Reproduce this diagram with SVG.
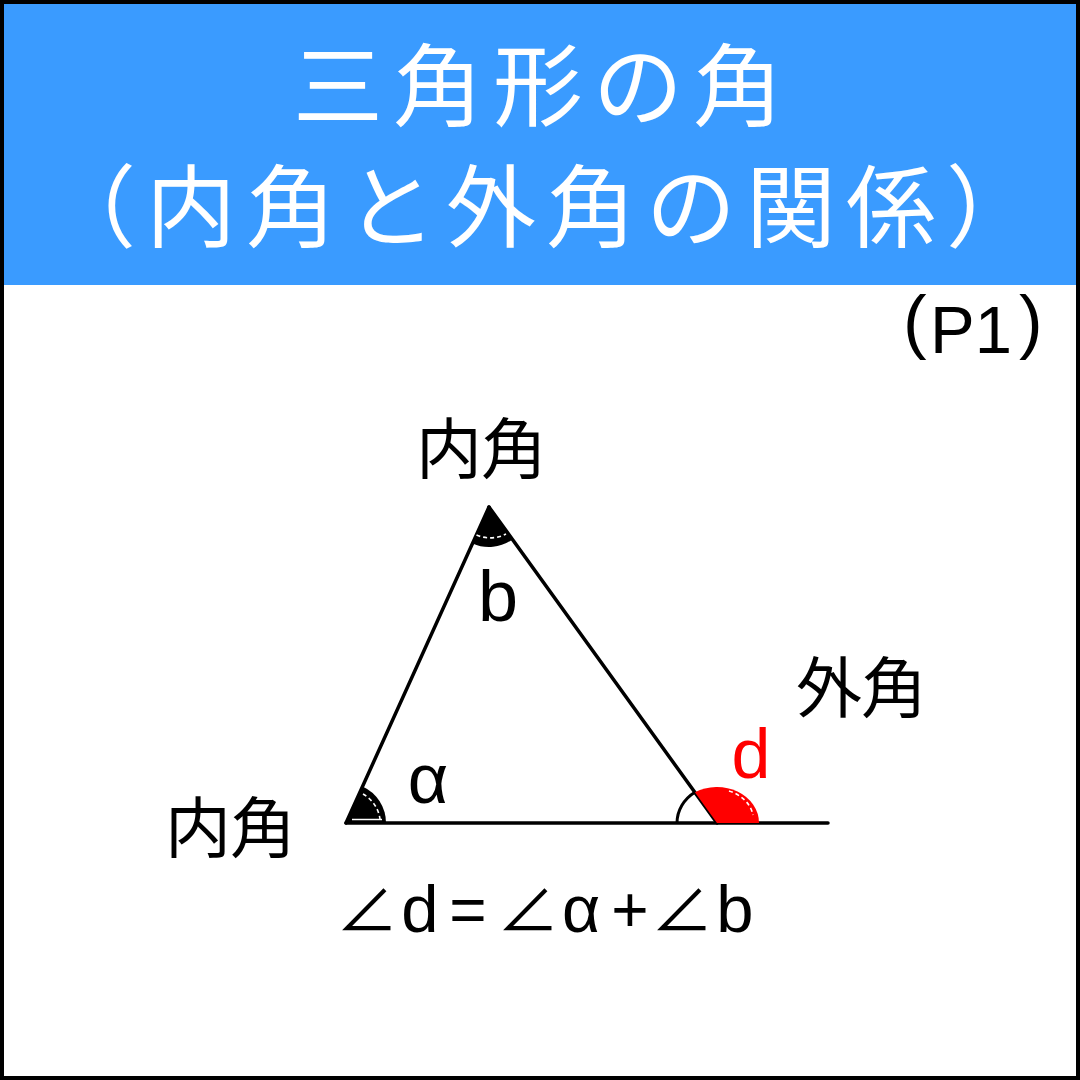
<svg xmlns="http://www.w3.org/2000/svg" width="1080" height="1080" viewBox="0 0 1080 1080">
  <style>
    .title { font-family: "Noto Sans CJK JP", sans-serif; font-size: 90px; fill: #ffffff; text-anchor: middle; }
    .lbl { font-family: "Noto Sans CJK JP", sans-serif; font-size: 66px; fill: #000000; text-anchor: middle; }
    .lat { font-family: "Liberation Sans", Arial, sans-serif; fill: #000000; text-anchor: middle; }
    .ang { font-family: "Noto Sans CJK JP", "DejaVu Sans", sans-serif; font-size: 62px; fill: #000000; text-anchor: middle; }
    .edge { stroke: #000000; stroke-width: 3.5; fill: none; stroke-linecap: round; }
    .wdash { stroke: #ffffff; stroke-width: 1.6; fill: none; stroke-dasharray: 4 3; }
  </style>
  <rect x="0" y="0" width="1080" height="1080" fill="#ffffff"/>
  <g id="header">
    <rect x="4" y="4" width="1072" height="281" fill="#3A9BFF"/>
    <text class="title" x="338 438 538 638 738" y="119">三角形の角</text>
    <text class="title" x="91 191 291 391 491 591 691 791 891 991" y="240">（内角と外角の関係）</text>
  </g>
  <g id="page-label">
    <text class="lat" style="font-size:71px;text-anchor:start" x="903" y="345">(</text>
    <text class="lat" style="font-size:67px;text-anchor:start" x="930" y="353">P1</text>
    <text class="lat" style="font-size:71px;text-anchor:start" x="1019" y="345">)</text>
  </g>
  <g id="connectors">
    <path class="edge" d="M 489 507 L 346 823"/>
    <path class="edge" d="M 489 507 L 717 823"/>
    <path class="edge" d="M 346 823 L 828 823"/>
  </g>
  <g id="angle-b">
    <path d="M 489 507 L 472.5 543.4 A 40 40 0 0 0 512.4 539.4 Z" fill="#000000"/>
    <path class="wdash" d="M 476.5 535 A 34 34 0 0 0 506 534"/>
  </g>
  <g id="angle-a">
    <path d="M 346 823 L 362.5 786.6 A 40 40 0 0 1 386 823 Z" fill="#000000"/>
    <path class="wdash" d="M 363 794 A 34 34 0 0 1 380 819"/>
    <line x1="352" y1="819.5" x2="382" y2="819.5" stroke="#ffffff" stroke-width="1.5"/>
  </g>
  <g id="angle-c">
    <path d="M 677 823 A 40 37 0 0 1 694.9 792.3" stroke="#000000" stroke-width="3" fill="none"/>
  </g>
  <g id="angle-d">
    <path d="M 717 823 L 694.9 792.3 A 42 36 0 0 1 759 823 Z" fill="#FF0000"/>
    <path class="wdash" d="M 729 791 A 37 31 0 0 1 753 815"/>
  </g>
  <g id="label-top">
    <text class="lbl" x="449 514" y="473">内角</text>
  </g>
  <g id="label-left">
    <text class="lbl" x="198 263" y="852">内角</text>
  </g>
  <g id="label-exterior">
    <text class="lbl" x="829 894" y="712">外角</text>
  </g>
  <g id="letters">
    <text class="lat" style="font-size:72px" x="498" y="621">b</text>
    <text class="lat" style="font-size:70px" x="428" y="803">α</text>
    <text class="lat" style="font-size:70px;fill:#FF0000" x="751" y="778">d</text>
  </g>
  <g id="formula">
    <text class="ang" x="367" y="932">∠</text>
    <text class="lat" style="font-size:67px" x="420" y="932">d</text>
    <text class="lat" style="font-size:64px" x="468" y="932">=</text>
    <text class="ang" x="528" y="932">∠</text>
    <text class="lat" style="font-size:66px" x="581" y="932">α</text>
    <text class="lat" style="font-size:64px" x="630" y="932">+</text>
    <text class="ang" x="682" y="932">∠</text>
    <text class="lat" style="font-size:67px" x="735" y="932">b</text>
  </g>
  <rect x="2" y="2" width="1076" height="1076" fill="none" stroke="#000000" stroke-width="4"/>
</svg>
